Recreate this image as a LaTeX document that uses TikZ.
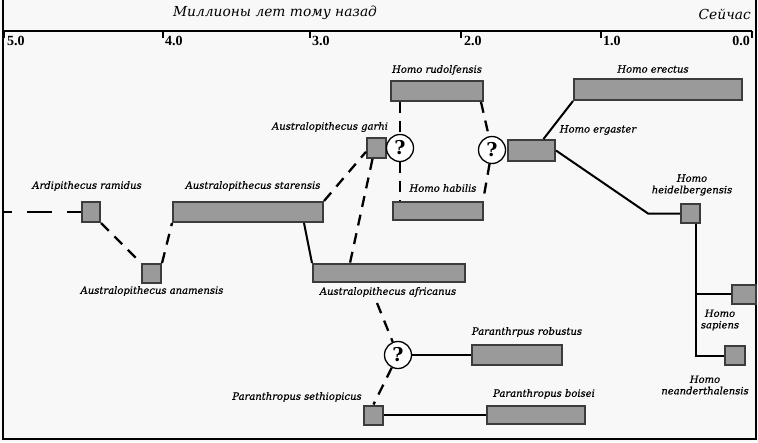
\documentclass[tikz,border=0pt]{standalone}
\usepackage{fontspec}
\setmainfont{DejaVu Serif}
\newfontfamily\tickfont{Liberation Serif}
\newfontfamily\lblfont[FakeBold=0.6]{DejaVu Serif}
\definecolor{bg}{HTML}{F8F8F8}
\definecolor{boxgray}{HTML}{9A9A9A}
\definecolor{bordergray}{HTML}{3C3C3C}
\begin{document}
\begin{tikzpicture}[x=1pt,y=-1pt,
  sp/.style={draw=bordergray, fill=boxgray, line width=2pt, inner sep=0pt},
  lbl/.style={font=\lblfont\fontsize{10}{11.5}\selectfont\itshape, text=black, inner sep=0pt, align=center},
  qm/.style={circle, draw=black, fill=white, line width=1.3pt, minimum size=27pt, inner sep=0pt, font=\fontsize{19}{19}\selectfont\bfseries},
  dsh/.style={line width=2.3pt, dash pattern=on 11pt off 8pt},
  sol/.style={line width=2pt},
  ticklbl/.style={font=\tickfont\fontsize{14}{14}\selectfont\bfseries, inner sep=0pt},
  ttl/.style={font=\fontsize{13.8}{14}\selectfont\itshape, inner sep=0pt}
]
\useasboundingbox (0,0) rectangle (758,442);
\fill[bg] (0,0) rectangle (758,442);
% frame
\draw[line width=2.4pt] (3,0) -- (3,439) -- (756,439) -- (756,0);
% axis
\draw[line width=2.2pt] (4,31) -- (752,31);
\foreach \x in {4,163,310,461,601,752} \draw[line width=1.8pt] (\x,31) -- (\x,38);
\node[ticklbl, anchor=west] (t5) at (7,41) {5.0};
\node[ticklbl, anchor=west] (t4) at (165,41) {4.0};
\node[ticklbl, anchor=west] (t3) at (312,41) {3.0};
\node[ticklbl, anchor=west] (t2) at (464,41) {2.0};
\node[ticklbl, anchor=west] (t1) at (603,41) {1.0};
\node[ticklbl, anchor=east] (t0) at (750,41) {0.0};
\node[ttl] (title) at (275,13) {Миллионы лет тому назад};
\node[ttl, anchor=east] (now) at (751,14) {Сейчас};

% species boxes
\node[sp, minimum width=18pt, minimum height=20pt] (ramidus) at (91,212) {};
\node[sp, minimum width=19pt, minimum height=19pt] (anamensis) at (151.5,273.5) {};
\node[sp, minimum width=150pt, minimum height=20pt] (starensis) at (248,212) {};
\node[sp, minimum width=19pt, minimum height=20pt] (garhi) at (376.5,148) {};
\node[sp, minimum width=92pt, minimum height=20pt] (rudolfensis) at (437,91) {};
\node[sp, minimum width=90pt, minimum height=18pt] (habilis) at (438,211) {};
\node[sp, minimum width=47pt, minimum height=21pt] (ergaster) at (531.5,150.5) {};
\node[sp, minimum width=168pt, minimum height=21pt] (erectus) at (658,89.5) {};
\node[sp, minimum width=19pt, minimum height=19pt] (heidel) at (690.5,213.5) {};
\node[sp, minimum width=24pt, minimum height=19pt] (sapiens) at (744,294) {};
\node[sp, minimum width=20pt, minimum height=19pt] (neander) at (735,355.5) {};
\node[sp, minimum width=152pt, minimum height=18pt] (africanus) at (389,273) {};
\node[sp, minimum width=90pt, minimum height=20pt] (robustus) at (517,355) {};
\node[sp, minimum width=19pt, minimum height=19pt] (sethiop) at (373.5,415) {};
\node[sp, minimum width=98pt, minimum height=18pt] (boisei) at (536,415) {};

% question circles
\node[qm] (q1) at (400,148) {?};
\node[qm] (q2) at (492,150) {?};
\node[qm] (q3) at (398,355) {?};

% labels
\node[lbl] (lramidus) at (87,186) {Ardipithecus ramidus};
\node[lbl] (lanamensis) at (152,291) {Australopithecus anamensis};
\node[lbl] (lstarensis) at (253,186) {Australopithecus starensis};
\node[lbl] (lgarhi) at (330,127) {Australopithecus garhi};
\node[lbl] (lrudolf) at (437,70) {Homo rudolfensis};
\node[lbl] (lhabilis) at (443,188) {Homo habilis};
\node[lbl] (lerectus) at (653,69) {Homo erectus};
\node[lbl] (lergaster) at (598,130) {Homo ergaster};
\node[lbl] (lheidel) at (692,185) {Homo\\heidelbergensis};
\node[lbl] (lsapiens) at (720,320) {Homo\\sapiens};
\node[lbl] (lneander) at (705,385) {Homo\\neanderthalensis};
\node[lbl] (lafricanus) at (388,292) {Australopithecus africanus};
\node[lbl] (lrobustus) at (527,332) {Paranthrpus robustus};
\node[lbl] (lsethiop) at (297,397) {Paranthropus sethiopicus};
\node[lbl] (lboisei) at (544,394) {Paranthropus boisei};

% coordinates
\coordinate (leftend) at (3,212);
\coordinate (hbk) at (648,213.5);
\coordinate (afrq) at (377,303);
\coordinate (trunk) at ([xshift=5.5pt]heidel.south);

% connectors
\draw[line width=2.3pt, dash pattern=on 25pt off 15pt, dash phase=16pt] (leftend) -- (ramidus.west);
\draw[dsh] (ramidus.south east) -- (anamensis.north west);
\draw[dsh] (anamensis.north east) -- (starensis.south west);
\draw[dsh] (starensis.north east) -- (garhi.200);
\draw[dsh] (garhi.250) -- ([xshift=-39pt]africanus.north);
\draw[sol] ([xshift=56pt]starensis.south) -- (africanus.north west);
\draw[dsh] ([xshift=-37pt]rudolfensis.south) -- (q1);
\draw[dsh] (q1) -- ([xshift=-38pt]habilis.north);
\draw[dsh] ([xshift=-3pt]rudolfensis.south east) -- (q2);
\draw[dsh] (q2) -- ([xshift=-1pt]habilis.north east);
\draw[sol] ([xshift=12pt]ergaster.north) -- (erectus.south west);
\draw[sol] (ergaster.east) -- (hbk) -- (heidel.west);
\draw[sol] (trunk) |- (neander.west);
\draw[sol] (sapiens.west) -- (sapiens.west -| trunk);
\draw[dsh] (afrq) -- (q3);
\draw[dsh] (q3) -- (sethiop.north);
\draw[sol] (q3.east) -- (robustus.west);
\draw[sol] (sethiop.east) -- (boisei.west);
\end{tikzpicture}
\end{document}
